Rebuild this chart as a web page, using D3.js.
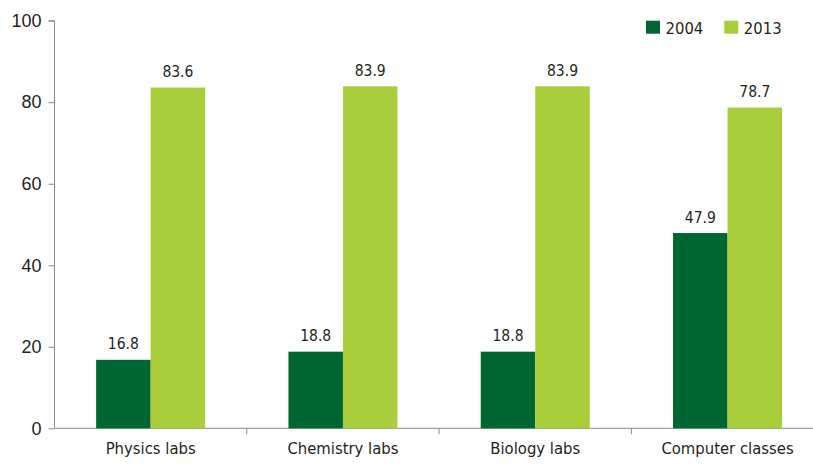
<!DOCTYPE html>
<html>
<head>
<meta charset="utf-8">
<script src="https://cdn.jsdelivr.net/npm/d3@7"></script>
<style>
	body { margin: 0; background: #fff; }
	svg { display: block; font-family: 'Liberation Sans Narrow', 'DejaVu Sans Condensed', sans-serif; }
	text { fill: #231f20; }
</style>
</head>
<body>
<svg id="chart" width="813" height="464"></svg>
<script>
	const categories = ['Physics labs', 'Chemistry labs', 'Biology labs', 'Computer classes']
	const years = ['2004', '2013']
	const values2004 = [16.8, 18.8, 18.8, 47.9]
	const values2013 = [83.6, 83.9, 83.9, 78.7]
	const yTicks = [0, 20, 40, 60, 80, 100]
	const colors = ['#006631', '#a8ce3b']

	const svg = d3.select('#chart')
	const rows = categories.map((c, i) => ({ cat: c, vals: [values2004[i], values2013[i]] }))

	const x0 = d3.scaleBand().domain(categories).range([54.5, 823.7])
	const x1 = d3.scaleBand().domain(years).range([0, x0.bandwidth()]).paddingOuter(0.764)
	const y = d3.scaleLinear().domain([0, 100]).range([428.3, 20.7])

	// y axis
	const gy = svg.append('g').attr('transform', 'translate(54.5,0)')
		.call(d3.axisLeft(y).tickValues(yTicks).tickSize(6).tickPadding(7))
	gy.select('.domain').attr('stroke', '#8a8a8a').attr('d', `M-6,${y(100)}H0V${y(0)}`)
	gy.selectAll('.tick line').attr('stroke', '#8a8a8a')
	gy.selectAll('.tick text').style('font-size', '18px').attr('fill', '#231f20')

	// x axis
	const gx = svg.append('g').attr('transform', `translate(0,${y(0)})`)
	gx.append('line').attr('x1', 54.5).attr('x2', 813).attr('stroke', '#8a8a8a')
	gx.selectAll('line.tk')
		.data(categories.slice(1))
		.enter().append('line').attr('class', 'tk')
		.attr('x1', d => x0(d)).attr('x2', d => x0(d))
		.attr('y1', 0).attr('y2', 6).attr('stroke', '#8a8a8a')
	gx.selectAll('text')
		.data(categories)
		.enter().append('text')
		.attr('x', d => x0(d) + x0.bandwidth() / 2)
		.attr('y', 26)
		.attr('text-anchor', 'middle')
		.style('font-size', '16.5px')
		.text(d => d)

	// bars
	const groups = svg.append('g').selectAll('g')
		.data(rows)
		.enter().append('g')
		.attr('transform', d => `translate(${x0(d.cat)},0)`)

	groups.selectAll('rect')
		.data(d => d.vals.map((v, i) => ({ year: years[i], v, i })))
		.enter().append('rect')
		.attr('x', d => x1(d.year))
		.attr('width', x1.bandwidth())
		.attr('y', d => y(d.v))
		.attr('height', d => y(0) - y(d.v))
		.attr('fill', d => colors[d.i])

	groups.selectAll('text')
		.data(d => d.vals.map((v, i) => ({ year: years[i], v, i })))
		.enter().append('text')
		.attr('x', d => x1(d.year) + x1.bandwidth() / 2)
		.attr('y', d => y(d.v) - 10.5)
		.attr('text-anchor', 'middle')
		.style('font-size', '15.5px')
		.text(d => d.v.toFixed(1))

	// legend
	const legend = svg.append('g').selectAll('g')
		.data(years)
		.enter().append('g')
		.attr('transform', (_, i) => `translate(${646 + i * 78.3},20.7)`)
	legend.append('rect').attr('width', 14).attr('height', 13).attr('fill', (_, i) => colors[i])
	legend.append('text').attr('x', 19.5).attr('y', 13).style('font-size', '16.5px').text(d => d)
</script>
</body>
</html>
